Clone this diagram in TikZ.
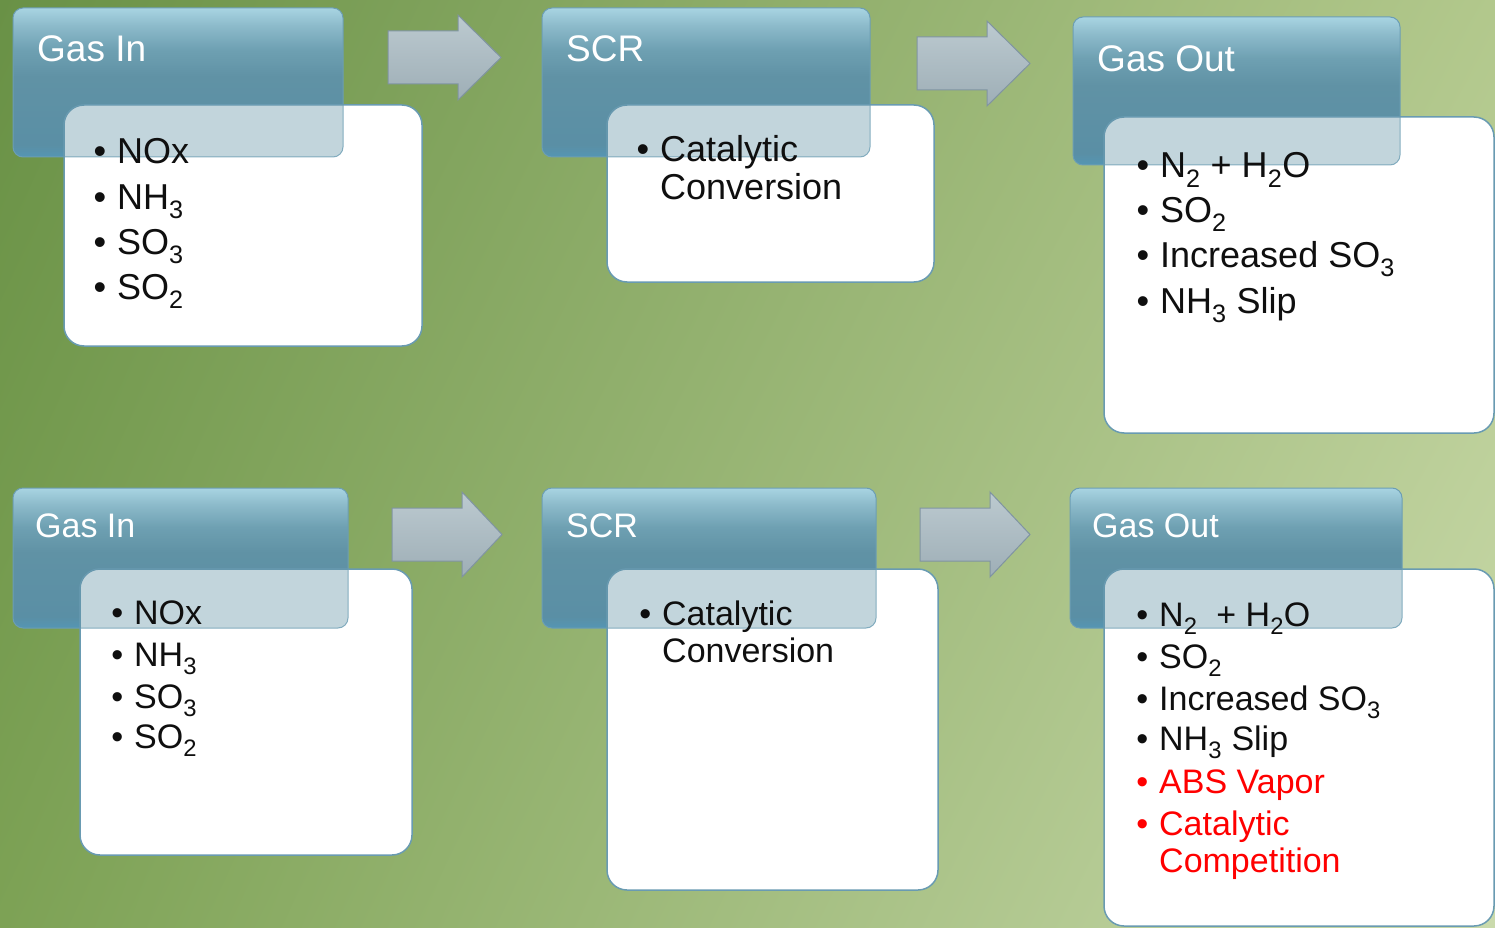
\documentclass[tikz,border=0pt]{standalone}
\usepackage{fontspec}
\setmainfont{Liberation Sans}
\usetikzlibrary{shadings}
\definecolor{bgTL}{RGB}{105,145,70}
\definecolor{bgTR}{RGB}{178,200,140}
\definecolor{bgBL}{RGB}{125,162,85}
\definecolor{bgBR}{RGB}{202,218,172}
\definecolor{hdTop}{RGB}{168,212,226}
\definecolor{hdUp}{RGB}{140,186,202}
\definecolor{hdMidUp}{RGB}{110,160,178}
\definecolor{hdMid}{RGB}{96,146,165}
\definecolor{hdLow}{RGB}{90,143,165}
\definecolor{hdBot}{RGB}{84,150,180}
\definecolor{hdLine}{RGB}{108,158,180}
\definecolor{bdLine}{RGB}{105,155,178}
\definecolor{arTop}{RGB}{188,202,208}
\definecolor{arBot}{RGB}{158,174,182}
\definecolor{arLine}{RGB}{128,148,162}
\definecolor{txtred}{RGB}{255,0,0}
\definecolor{txtblk}{RGB}{15,15,15}
\pgfdeclareverticalshading{hdrshade}{100bp}{color(0bp)=(hdBot); color(25bp)=(hdBot); color(29bp)=(hdLow); color(52bp)=(hdMid); color(61bp)=(hdMidUp); color(69bp)=(hdUp); color(75bp)=(hdTop); color(100bp)=(hdTop)}
\tikzset{
  hdr/.style={rounded corners=10pt, shading=hdrshade, draw=hdLine, line width=1pt},
  hdrglass/.style={rounded corners=10pt, fill=hdMid, fill opacity=0.38},
  hdredge/.style={rounded corners=10pt, draw=hdLine, line width=1pt, draw opacity=0.8},
  bdy/.style={rounded corners=20pt, fill=white, draw=bdLine, line width=1.5pt},
  htxtA/.style={anchor=base west, inner sep=0pt, text=white, font=\fontsize{37}{40}\selectfont},
  htxtB/.style={anchor=base west, inner sep=0pt, text=white, font=\fontsize{34}{38}\selectfont},
  btxtA/.style={anchor=base west, inner sep=0pt, text=txtblk, font=\fontsize{36}{40}\selectfont},
  btxtB/.style={anchor=base west, inner sep=0pt, text=txtblk, font=\fontsize{34}{38}\selectfont},
  redtxt/.style={text=txtred},
  blockarrow/.style={top color=arTop, bottom color=arBot, draw=arLine, line width=1pt},
}
\newcommand\bt[1]{\llap{\textbullet\hspace{11pt}}#1}
\newcommand\panel[9]{%
  \shade[hdr] (#2,#3) rectangle (#4,#5);
  \path[bdy] (#6,#7) rectangle (#8,#9);
  \begin{scope}
    \clip[rounded corners=20pt] (#6,#7) rectangle (#8,#9);
    \path[hdrglass] (#2,#3) rectangle (#4,#5);
    \path[hdredge] (#2,#3) rectangle (#4,#5);
  \end{scope}
  \coordinate (#1) at (#2,#3);
}
\newcommand\blockarr[4]{% name, x, y, length
  \coordinate (#1) at (#2,#3);
  \path[blockarrow] (#2,#3+16) -- (#2+70,#3+16) -- (#2+70,#3) -- (#2+#4,#3+42.5)
    -- (#2+70,#3+85) -- (#2+70,#3+69) -- (#2,#3+69) -- cycle;
}
\begin{document}
\begin{tikzpicture}[x=1pt,y=-1pt]
\useasboundingbox (0,0) rectangle (1495,928);
\shade[upper left=bgTL, upper right=bgTR, lower left=bgBL, lower right=bgBR] (0,0) rectangle (1495,928);

% ---------- top row ----------
\panel{p1}{13}{8}{343}{157}{64}{105}{422}{346}
\panel{p2}{542}{8}{870}{157}{607}{105}{934}{282}
\panel{p3}{1073}{17}{1400}{165}{1104}{117}{1494}{433}
\blockarr{a1}{388}{15}{113}
\blockarr{a2}{917}{21}{113}

\node[htxtA] (h1) at (37,62) {Gas In};
\node[htxtA] (h2) at (566,62) {SCR};
\node[htxtA] (h3) at (1097,72) {Gas Out};

\node[btxtA] (b1a) at (117,164) {\bt{NOx}};
\node[btxtA] (b1b) at (117,209) {\bt{NH\textsubscript{3}}};
\node[btxtA] (b1c) at (117,254) {\bt{SO\textsubscript{3}}};
\node[btxtA] (b1d) at (117,299) {\bt{SO\textsubscript{2}}};

\node[btxtA] (b2a) at (660,162) {\bt{Catalytic}};
\node[btxtA] (b2b) at (660,200) {Conversion};

\node[btxtA] (b3a) at (1160,178) {\bt{N\textsubscript{2} + H\textsubscript{2}O}};
\node[btxtA] (b3b) at (1160,222) {\bt{SO\textsubscript{2}}};
\node[btxtA] (b3c) at (1160,267) {\bt{Increased SO\textsubscript{3}}};
\node[btxtA] (b3d) at (1160,313) {\bt{NH\textsubscript{3} Slip}};

% ---------- bottom row ----------
\panel{p4}{13}{488}{348}{628}{80}{569}{412}{855}
\panel{p5}{542}{488}{876}{628}{607}{569}{938}{890}
\panel{p6}{1070}{488}{1402}{628}{1104}{569}{1494}{926}
\blockarr{a3}{392}{492}{110}
\blockarr{a4}{920}{492}{110}

\node[htxtB] (h4) at (35,537) {Gas In};
\node[htxtB] (h5) at (566,537) {SCR};
\node[htxtB] (h6) at (1092,537) {Gas Out};

\node[btxtB] (b4a) at (134,624) {\bt{NOx}};
\node[btxtB] (b4b) at (134,666) {\bt{NH\textsubscript{3}}};
\node[btxtB] (b4c) at (134,708) {\bt{SO\textsubscript{3}}};
\node[btxtB] (b4d) at (134,748) {\bt{SO\textsubscript{2}}};

\node[btxtB] (b5a) at (662,625) {\bt{Catalytic}};
\node[btxtB] (b5b) at (662,662) {Conversion};

\node[btxtB] (b6a) at (1159,626) {\bt{N\textsubscript{2}\ \ + H\textsubscript{2}O}};
\node[btxtB] (b6b) at (1159,668) {\bt{SO\textsubscript{2}}};
\node[btxtB] (b6c) at (1159,710) {\bt{Increased SO\textsubscript{3}}};
\node[btxtB] (b6d) at (1159,750) {\bt{NH\textsubscript{3} Slip}};
\node[btxtB,redtxt] (b6e) at (1159,793) {\bt{ABS Vapor}};
\node[btxtB,redtxt] (b6f) at (1159,835) {\bt{Catalytic}};
\node[btxtB,redtxt] (b6g) at (1159,872) {Competition};
\end{tikzpicture}
\end{document}
